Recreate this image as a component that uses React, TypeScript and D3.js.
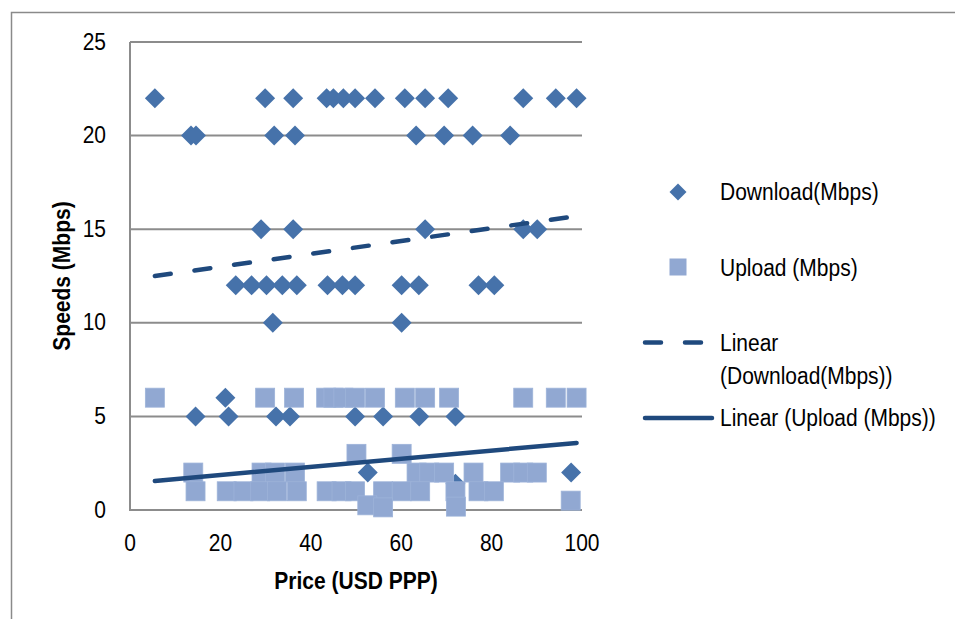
import React, { useRef, useEffect } from "react";
import * as d3 from "d3";

// download speeds (Mbps) vs price
const downloadPrice = [
  5.5, 29.9, 36.1, 43.5, 45, 47.2, 49.8, 54.2, 60.8, 65.3, 70.4, 87, 94.2, 98.8,
  13.5, 14.6, 31.9, 36.5, 63.3, 69.5, 75.8, 84.1,
  29, 36.1, 65.3, 87, 90.1,
  23.4, 26.9, 30.2, 33.7, 36.9, 43.7, 47, 49.8, 60.1, 63.9, 77.1, 80.6,
  31.6, 60.1,
  21.1,
  14.5, 21.8, 32.3, 35.4, 49.8, 56, 64, 72,
  52.6, 97.6, 72,
];
const downloadSpeed = [
  22, 22, 22, 22, 22, 22, 22, 22, 22, 22, 22, 22, 22, 22,
  20, 20, 20, 20, 20, 20, 20, 20,
  15, 15, 15, 15, 15,
  12, 12, 12, 12, 12, 12, 12, 12, 12, 12, 12, 12,
  10, 10,
  6,
  5, 5, 5, 5, 5, 5, 5, 5,
  2, 2, 1.4,
];

// upload speeds (Mbps) vs price
const uploadPrice = [
  5.5, 29.9, 36.3, 43.4, 45, 47.2, 49.8, 54.2, 60.8, 65.3, 70.6, 87, 94.2, 98.8,
  50.1, 60.1,
  14, 29.1, 32.1, 36.5, 63.4, 66.2, 69.5, 76, 84.1, 87, 90,
  14.5, 21.4, 25.1, 28.8, 32.5, 36.9, 43.5, 46.8, 49.8, 56, 60.1, 64.2, 72, 77.1, 80.5,
  52.5, 56, 72.1, 97.5,
];
const uploadSpeed = [
  6, 6, 6, 6, 6, 6, 6, 6, 6, 6, 6, 6, 6, 6,
  3, 3,
  2, 2, 2, 2, 2, 2, 2, 2, 2, 2, 2,
  1, 1, 1, 1, 1, 1, 1, 1, 1, 1, 1, 1, 1, 1, 1,
  0.25, 0.14, 0.18, 0.5,
];

// trend lines: [intercept, slope]
const downloadTrend = [12.31, 0.0343];
const uploadTrend = [1.43, 0.0218];

const yTicks = [0, 5, 10, 15, 20, 25];
const xTicks = [0, 20, 40, 60, 80, 100];

const legendLabels = [
  ["Download(Mbps)"],
  ["Upload (Mbps)"],
  ["Linear", "(Download(Mbps))"],
  ["Linear (Upload (Mbps))"],
];

const W = 955;
const H = 619;
const DARK = "#1f497d";
const DL = "#4672aa";
const UL = "#91a8d2";
const GRID = "#8c8c8c";
const FONT = "'Liberation Sans', Arial, sans-serif";
const SY = 1.13;

const App: React.FC = () => {
  const svgRef = useRef<SVGSVGElement>(null);

  useEffect(() => {
    if (!svgRef.current) return;
    const svg = d3.select(svgRef.current);
    svg.selectAll("*").remove();

    const x = d3.scaleLinear().domain([0, 100]).range([130, 582]);
    const y = d3.scaleLinear().domain([0, 25]).range([510, 42]);

    // outer frame (top + left edges visible)
    svg
      .append("path")
      .attr("d", `M11.5,${H} V12.5 H${W}`)
      .attr("fill", "none")
      .attr("stroke", "#8a8a8a")
      .attr("stroke-width", 1.5);

    // grid
    svg
      .append("g")
      .selectAll("line")
      .data(yTicks.filter((d) => d > 0))
      .join("line")
      .attr("x1", x(0))
      .attr("x2", x(100))
      .attr("y1", (d) => y(d))
      .attr("y2", (d) => y(d))
      .attr("stroke", GRID)
      .attr("stroke-width", 2);

    // axes
    svg
      .append("path")
      .attr("d", `M${x(0)},${y(25)} V${y(0)} H${x(100)}`)
      .attr("fill", "none")
      .attr("stroke", GRID)
      .attr("stroke-width", 2);

    const label = (
      g: d3.Selection<any, any, any, any>,
      tx: number,
      ty: number,
      text: string,
      anchor: string,
      bold = false,
      rotate = 0
    ) => {
      g.append("g")
        .attr("transform", `translate(${tx},${ty}) rotate(${rotate}) scale(1,${SY})`)
        .append("text")
        .attr("text-anchor", anchor)
        .attr("dy", "0.36em")
        .attr("font-family", FONT)
        .attr("font-size", 21)
        .attr("font-weight", bold ? "bold" : "normal")
        .attr("fill", "#000")
        .text(text);
    };

    const txt = svg.append("g");
    yTicks.forEach((t) => label(txt, 106, y(t) - 1, String(t), "end"));
    xTicks.forEach((t) => label(txt, x(t), 542, String(t), "middle"));
    label(txt, 61, 276, "Speeds (Mbps)", "middle", true, -90);
    label(txt, 356, 580, "Price (USD PPP)", "middle", true);

    // download diamonds
    const diamond = "M0,-10L10,0L0,10L-10,0Z";
    svg
      .append("g")
      .selectAll("path")
      .data(d3.range(downloadPrice.length))
      .join("path")
      .attr("d", diamond)
      .attr("transform", (i) => `translate(${x(downloadPrice[i])},${y(downloadSpeed[i])})`)
      .attr("fill", DL);

    // upload squares
    svg
      .append("g")
      .selectAll("rect")
      .data(d3.range(uploadPrice.length))
      .join("rect")
      .attr("x", (i) => x(uploadPrice[i]) - 9.5)
      .attr("y", (i) => y(uploadSpeed[i]) - 9.5)
      .attr("width", 19)
      .attr("height", 19)
      .attr("fill", UL)
      .attr("stroke", "#9db3d9")
      .attr("stroke-width", 0.8);

    // trend lines
    const dExt = d3.extent(downloadPrice) as [number, number];
    const uExt = d3.extent(uploadPrice) as [number, number];
    const line = d3
      .line<number[]>()
      .x((d) => x(d[0]))
      .y((d) => y(d[1]));
    const trendPts = (ext: [number, number], c: number[]) =>
      ext.map((p) => [p, c[0] + c[1] * p]);

    svg
      .append("path")
      .attr("d", line(trendPts(dExt, downloadTrend)))
      .attr("fill", "none")
      .attr("stroke", DARK)
      .attr("stroke-width", 4.5)
      .attr("stroke-linecap", "round")
      .attr("stroke-dasharray", "16 24");

    svg
      .append("path")
      .attr("d", line(trendPts(uExt, uploadTrend)))
      .attr("fill", "none")
      .attr("stroke", DARK)
      .attr("stroke-width", 4.5)
      .attr("stroke-linecap", "round");

    // legend
    const leg = svg.append("g");
    leg
      .append("path")
      .attr("d", "M0,-8.5L8.5,0L0,8.5L-8.5,0Z")
      .attr("transform", "translate(678,192)")
      .attr("fill", DL);
    leg
      .append("rect")
      .attr("x", 669.5)
      .attr("y", 258.5)
      .attr("width", 17)
      .attr("height", 17)
      .attr("fill", UL);
    leg
      .append("line")
      .attr("x1", 645)
      .attr("x2", 705)
      .attr("y1", 342.5)
      .attr("y2", 342.5)
      .attr("stroke", DARK)
      .attr("stroke-width", 4.5)
      .attr("stroke-linecap", "round")
      .attr("stroke-dasharray", "16 24");
    leg
      .append("line")
      .attr("x1", 645)
      .attr("x2", 712)
      .attr("y1", 418)
      .attr("y2", 418)
      .attr("stroke", DARK)
      .attr("stroke-width", 4.5)
      .attr("stroke-linecap", "round");

    const legY = [[191], [267], [342, 375], [417]];
    legendLabels.forEach((lines, i) =>
      lines.forEach((t, j) => label(leg, 720, legY[i][j], t, "start"))
    );
  }, []);

  return (
    <svg
      ref={svgRef}
      width={W}
      height={H}
      style={{ position: "absolute", left: 0, top: 0, background: "#fff" }}
    />
  );
};

export default App;
